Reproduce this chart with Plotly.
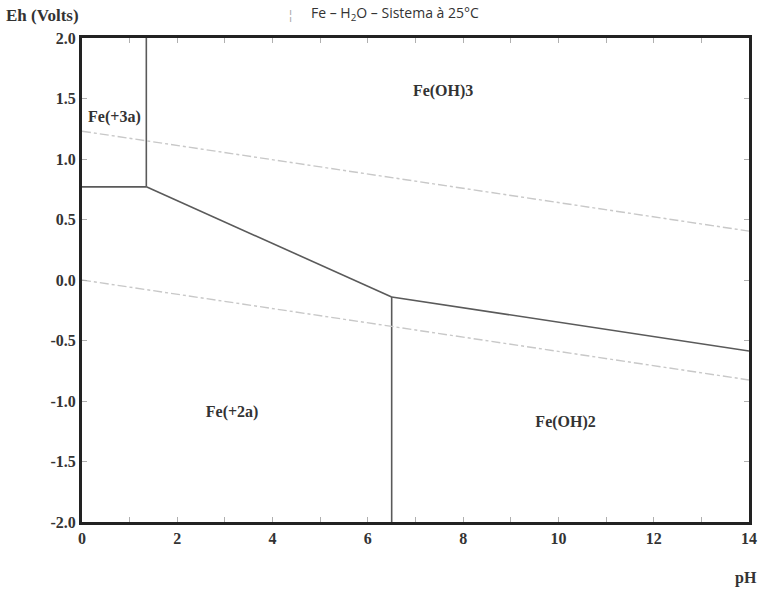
import plotly.graph_objects as go

# Stability boundaries of the Fe-H2O system (pH, Eh in volts)
fe3_fe2_ph = [0.0, 1.35]
fe3_fe2_eh = [0.77, 0.77]
fe3_feoh3_ph = [1.35, 1.35]
fe3_feoh3_eh = [0.77, 2.0]
fe2_feoh3_ph = [1.35, 6.5]
fe2_feoh3_eh = [0.77, -0.14]
fe2_feoh2_ph = [6.5, 6.5]
fe2_feoh2_eh = [-0.14, -2.0]
feoh2_feoh3_ph = [6.5, 14.0]
feoh2_feoh3_eh = [-0.14, -0.587]

# Water stability limits
water_ph = [0.0, 14.0]
o2_eh = [1.23, 0.404]
h2_eh = [0.0, -0.826]

# Region labels
region_names = ["Fe(OH)3", "Fe(+3a)", "Fe(+2a)", "Fe(OH)2"]
region_ph = [7.58, 0.68, 3.15, 10.15]
region_eh = [1.55, 1.34, -1.10, -1.18]

x_ticks = [0, 2, 4, 6, 8, 10, 12, 14]
x_labels = ["0", "2", "4", "6", "8", "10", "12", "14"]
y_ticks = [-2.0, -1.5, -1.0, -0.5, 0.0, 0.5, 1.0, 1.5, 2.0]
y_labels = ["-2.0", "-1.5", "-1.0", "-0.5", "0.0", "0.5", "1.0", "1.5", "2.0"]

SERIF = "Liberation Serif, Times New Roman, serif"

fig = go.Figure()

boundary_style = dict(color="#5a5a5a", width=1.6)
for xs, ys in [(fe3_fe2_ph, fe3_fe2_eh), (fe3_feoh3_ph, fe3_feoh3_eh),
               (fe2_feoh3_ph, fe2_feoh3_eh), (fe2_feoh2_ph, fe2_feoh2_eh),
               (feoh2_feoh3_ph, feoh2_feoh3_eh)]:
    fig.add_trace(go.Scatter(x=xs, y=ys, mode="lines", line=boundary_style,
                             showlegend=False, hoverinfo="skip"))

water_style = dict(color="#c8c8c8", width=1.4, dash="dashdot")
for ys in (o2_eh, h2_eh):
    fig.add_trace(go.Scatter(x=water_ph, y=ys, mode="lines", line=water_style,
                             showlegend=False, hoverinfo="skip"))

fig.add_trace(go.Scatter(
    x=region_ph, y=region_eh, mode="text", text=region_names,
    textfont=dict(family=SERIF, size=16, color="#333333", weight="bold"),
    showlegend=False, hoverinfo="skip"))

axis_common = dict(
    showgrid=False, zeroline=False, showline=True, linecolor="#222222",
    linewidth=3, mirror="allticks", ticks="inside", ticklen=5, tickcolor="#b0b0b0",
    automargin=False,
    tickfont=dict(family=SERIF, size=16, color="#333333", weight="bold"),
)

fig.update_xaxes(range=[0, 14], tickvals=x_ticks, ticktext=x_labels,
                 minor=dict(dtick=1, ticks="inside", ticklen=5, tickcolor="#b0b0b0"),
                 **axis_common)
fig.update_yaxes(range=[-2, 2], tickvals=y_ticks, ticktext=y_labels,
                 **axis_common)

fig.add_annotation(text="<b>Eh (Volts)</b>", xref="paper", yref="paper",
                   x=-0.117, y=1.046, xanchor="left", yanchor="middle",
                   showarrow=False,
                   font=dict(family=SERIF, size=17, color="#333333"))
fig.add_annotation(text="<b>pH</b>", xref="paper", yref="paper",
                   x=0.995, y=-0.115, xanchor="center", yanchor="middle",
                   showarrow=False,
                   font=dict(family=SERIF, size=16, color="#333333"))
fig.add_annotation(text="¦", xref="paper", yref="paper",
                   x=0.312, y=1.048, xanchor="center", yanchor="middle",
                   showarrow=False,
                   font=dict(family="Liberation Sans", size=12, color="#aaaaaa"))
fig.add_annotation(text="Fe – H<sub>2</sub>O – Sistema à 25°C", xref="paper", yref="paper",
                   x=0.34, y=1.05, xanchor="left", yanchor="middle",
                   showarrow=False,
                   font=dict(family="Open Sans", size=14, color="#333333"))

fig.update_layout(
    width=758, height=590,
    margin=dict(l=82, r=9, t=38, b=68),
    paper_bgcolor="white", plot_bgcolor="white",
    showlegend=False,
)

fig.write_html("out.html")
